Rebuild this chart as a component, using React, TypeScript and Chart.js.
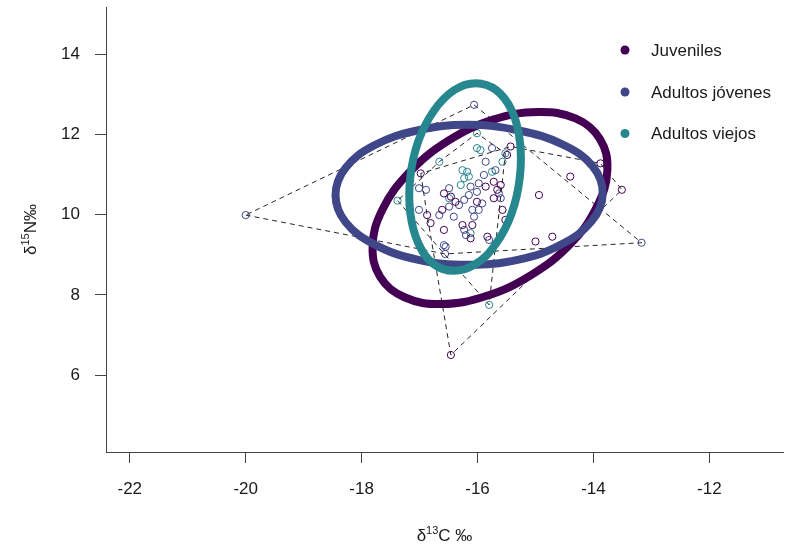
import React, { useEffect, useRef } from 'react';
import { Chart, registerables } from 'chart.js';

Chart.register(...registerables);

const FONT = '"Liberation Sans", Arial, Helvetica, sans-serif';

// ---- axes ----
const xTicks = [-22, -20, -18, -16, -14, -12];
const yTicks = [6, 8, 10, 12, 14];
const xRange = [-22.41, -10.73];
const yRange = [4.08, 15.18];

// ---- groups ----
const groupNames = ['Juveniles', 'Adultos jóvenes', 'Adultos viejos'];
const groupColors = ['#440154', '#3F4788', '#27878F'];

// ---- raw points (δ13C, δ15N) ----
const juvenilesX = [-16.46, -13.51, -13.88, -15.43, -16.98, -14.94, -14.40, -15.00, -14.71, -15.49, -15.86, -15.72, -15.66, -15.72, -16.38, -16.58, -16.87, -16.81, -16.58, -16.09, -16.12, -15.83, -15.57, -15.52, -16.01, -16.26, -15.60, -16.46, -16.61];
const juvenilesY = [6.50, 10.62, 11.28, 11.70, 11.03, 10.49, 10.95, 9.33, 9.45, 11.49, 10.70, 10.82, 10.62, 10.41, 10.32, 10.53, 9.99, 9.79, 9.62, 9.74, 9.41, 9.45, 10.12, 9.87, 10.32, 9.74, 10.74, 10.45, 10.12];

const jovenesX = [-20.00, -16.06, -13.17, -16.56, -17.01, -16.89, -16.49, -16.23, -16.15, -16.01, -15.98, -15.89, -15.86, -15.75, -17.01, -16.66, -16.41, -16.09, -16.06, -16.23, -16.20, -15.98, -15.80, -15.60, -16.55, -16.49, -16.32, -15.92, -15.63, -16.12, -15.69, -16.58];
const jovenesY = [9.99, 12.74, 9.30, 9.02, 10.66, 10.62, 10.66, 10.37, 10.49, 10.57, 10.78, 10.99, 11.32, 11.66, 10.12, 9.99, 9.95, 10.12, 9.95, 9.62, 9.49, 10.12, 9.37, 10.41, 9.20, 10.20, 10.24, 10.28, 10.53, 10.70, 11.11, 9.24];

const viejosX = [-17.38, -16.66, -16.01, -16.01, -15.95, -15.52, -15.57, -16.26, -16.18, -16.15, -16.23, -16.29, -16.49, -16.12, -15.75, -15.80];
const viejosY = [10.35, 11.32, 12.03, 11.66, 11.61, 11.53, 11.32, 11.11, 11.07, 10.95, 10.91, 10.74, 10.41, 9.54, 11.07, 7.75];

// ---- standard ellipse outlines ----
const juvenilesEllipseX = [-13.89, -13.76, -13.94, -14.39, -15.07, -15.85, -16.62, -17.26, -17.68, -17.81, -17.64, -17.18, -16.51, -15.73, -14.96, -14.31];
const juvenilesEllipseY = [11.89, 11.11, 10.20, 9.28, 8.50, 7.97, 7.77, 7.94, 8.45, 9.22, 10.13, 11.05, 11.84, 12.37, 12.56, 12.40];

const jovenesEllipseX = [-16.17, -15.29, -14.53, -14.01, -13.84, -14.03, -14.55, -15.29, -16.17, -17.04, -17.78, -18.28, -18.45, -18.28, -17.78, -17.04];
const jovenesEllipseY = [12.24, 12.10, 11.75, 11.20, 10.52, 9.84, 9.26, 8.88, 8.75, 8.88, 9.26, 9.82, 10.49, 11.16, 11.73, 12.10];

const viejosEllipseX = [-16.03, -15.68, -15.41, -15.27, -15.27, -15.41, -15.68, -16.03, -16.41, -16.76, -17.02, -17.16, -17.16, -17.02, -16.75, -16.40];
const viejosEllipseY = [13.28, 13.11, 12.60, 11.84, 10.94, 10.04, 9.28, 8.77, 8.60, 8.77, 9.28, 10.04, 10.94, 11.84, 12.60, 13.11];

type P = { x: number; y: number };

const toPoints = (xs: number[], ys: number[]): P[] => xs.map((x, i) => ({ x, y: ys[i] }));

function convexHull(pts: P[]): P[] {
  const p = [...pts].sort((a, b) => (a.x === b.x ? a.y - b.y : a.x - b.x));
  const cross = (o: P, a: P, b: P) => (a.x - o.x) * (b.y - o.y) - (a.y - o.y) * (b.x - o.x);
  const lower: P[] = [];
  for (const q of p) {
    while (lower.length >= 2 && cross(lower[lower.length - 2], lower[lower.length - 1], q) <= 0) lower.pop();
    lower.push(q);
  }
  const upper: P[] = [];
  for (let i = p.length - 1; i >= 0; i--) {
    const q = p[i];
    while (upper.length >= 2 && cross(upper[upper.length - 2], upper[upper.length - 1], q) <= 0) upper.pop();
    upper.push(q);
  }
  const hull = lower.slice(0, -1).concat(upper.slice(0, -1));
  return [...hull, hull[0]];
}

// closed loop with one wrap point on each side (end segments hidden)
function wrapLoop(pts: P[]): P[] {
  return [pts[pts.length - 1], ...pts, pts[0], pts[1]];
}

const groups = [
  { pts: toPoints(juvenilesX, juvenilesY), ell: toPoints(juvenilesEllipseX, juvenilesEllipseY) },
  { pts: toPoints(jovenesX, jovenesY), ell: toPoints(jovenesEllipseX, jovenesEllipseY) },
  { pts: toPoints(viejosX, viejosY), ell: toPoints(viejosEllipseX, viejosEllipseY) },
];

function richText(ctx: CanvasRenderingContext2D, parts: { t: string; size: number; dy: number }[], cx: number, baseline: number) {
  let total = 0;
  const widths = parts.map((p) => {
    ctx.font = `${p.size}px ${FONT}`;
    const w = ctx.measureText(p.t).width;
    total += w;
    return w;
  });
  let x = cx - total / 2;
  parts.forEach((p, i) => {
    ctx.font = `${p.size}px ${FONT}`;
    ctx.fillText(p.t, x, baseline + p.dy);
    x += widths[i];
  });
}

const decorPlugin = {
  id: 'decor',
  afterDraw(chart: any) {
    const ctx: CanvasRenderingContext2D = chart.ctx;
    const area = chart.chartArea;
    ctx.save();
    ctx.fillStyle = '#1a1a1a';
    ctx.textAlign = 'left';
    ctx.textBaseline = 'alphabetic';
    // x title
    richText(
      ctx,
      [
        { t: 'δ', size: 17, dy: 0 },
        { t: '13', size: 11, dy: -7 },
        { t: 'C ‰', size: 17, dy: 0 },
      ],
      (area.left + area.right) / 2,
      541
    );
    // y title
    ctx.save();
    ctx.translate(36, (area.top + area.bottom) / 2);
    ctx.rotate(-Math.PI / 2);
    richText(
      ctx,
      [
        { t: 'δ', size: 17, dy: 0 },
        { t: '15', size: 11, dy: -7 },
        { t: 'N‰', size: 17, dy: 0 },
      ],
      0,
      0
    );
    ctx.restore();
    // legend
    const legendY = [50, 92, 133.5];
    ctx.font = `17px ${FONT}`;
    ctx.textBaseline = 'middle';
    groupNames.forEach((name, i) => {
      ctx.fillStyle = groupColors[i];
      ctx.beginPath();
      ctx.arc(625, legendY[i], 4.5, 0, Math.PI * 2);
      ctx.fill();
      ctx.fillStyle = '#1a1a1a';
      ctx.fillText(name, 651, legendY[i] + 1);
    });
    ctx.restore();
  },
};

export default function App() {
  const ref = useRef<HTMLCanvasElement | null>(null);

  useEffect(() => {
    if (!ref.current) return;
    const datasets: any[] = [];

    // ellipses (on top)
    groups.forEach((g, i) => {
      const data = wrapLoop(g.ell);
      const last = data.length - 1;
      datasets.push({
        label: groupNames[i] + ' ellipse',
        data,
        showLine: true,
        borderColor: groupColors[i],
        borderWidth: 8,
        borderCapStyle: 'round',
        borderJoinStyle: 'round',
        tension: 0.4,
        pointRadius: 0,
        pointHoverRadius: 0,
        fill: false,
        order: 2 - i,
        segment: {
          borderColor: (c: any) => (c.p0DataIndex === 0 || c.p1DataIndex === last ? 'rgba(0,0,0,0)' : undefined),
        },
      });
    });

    // hulls
    groups.forEach((g, i) => {
      datasets.push({
        label: groupNames[i] + ' hull',
        data: convexHull(g.pts),
        showLine: true,
        borderColor: '#262626',
        borderWidth: 1,
        borderDash: [5, 4],
        tension: 0,
        pointRadius: 0,
        pointHoverRadius: 0,
        fill: false,
        order: 3,
      });
    });

    // points
    groups.forEach((g, i) => {
      datasets.push({
        label: groupNames[i],
        data: g.pts,
        showLine: false,
        pointStyle: 'circle',
        pointRadius: 3.6,
        pointBorderWidth: 1,
        pointBorderColor: groupColors[i],
        pointBackgroundColor: 'rgba(0,0,0,0)',
        borderColor: groupColors[i],
        backgroundColor: 'rgba(0,0,0,0)',
        order: 4,
      });
    });

    const axisColor = '#444';
    const chart = new Chart(ref.current, {
      type: 'scatter',
      data: { datasets },
      options: {
        responsive: false,
        animation: false,
        devicePixelRatio: 1,
        layout: { padding: { top: 7, right: 3, left: 0, bottom: 0 } },
        plugins: { legend: { display: false }, tooltip: { enabled: false }, title: { display: false } },
        scales: {
          x: {
            type: 'linear',
            min: xRange[0],
            max: xRange[1],
            afterBuildTicks: (s: any) => {
              s.ticks = xTicks.map((v) => ({ value: v }));
            },
            afterFit: (s: any) => {
              s.height = 96;
              s.paddingLeft = 0;
              s.paddingRight = 0;
            },
            grid: { display: true, drawOnChartArea: false, drawTicks: true, tickLength: 11, color: axisColor, lineWidth: 1 },
            border: { display: true, color: axisColor, width: 1 },
            ticks: { color: '#1a1a1a', font: { family: FONT, size: 17 }, padding: 16, maxRotation: 0, autoSkip: false, callback: (v: any) => String(v) },
          },
          y: {
            type: 'linear',
            min: yRange[0],
            max: yRange[1],
            afterBuildTicks: (s: any) => {
              s.ticks = yTicks.map((v) => ({ value: v }));
            },
            afterFit: (s: any) => {
              s.width = 106;
              s.paddingTop = 0;
              s.paddingBottom = 0;
            },
            grid: { display: true, drawOnChartArea: false, drawTicks: true, tickLength: 11, color: axisColor, lineWidth: 1 },
            border: { display: true, color: axisColor, width: 1 },
            ticks: { color: '#1a1a1a', font: { family: FONT, size: 17 }, padding: 15, autoSkip: false, callback: (v: any) => String(v) },
          },
        },
      },
      plugins: [decorPlugin],
    });
    return () => chart.destroy();
  }, []);

  return (
    <div style={{ position: 'absolute', left: 0, top: 0, width: 788, height: 548, background: '#fff' }}>
      <canvas ref={ref} width={788} height={548} style={{ width: 788, height: 548, display: 'block' }} />
    </div>
  );
}
